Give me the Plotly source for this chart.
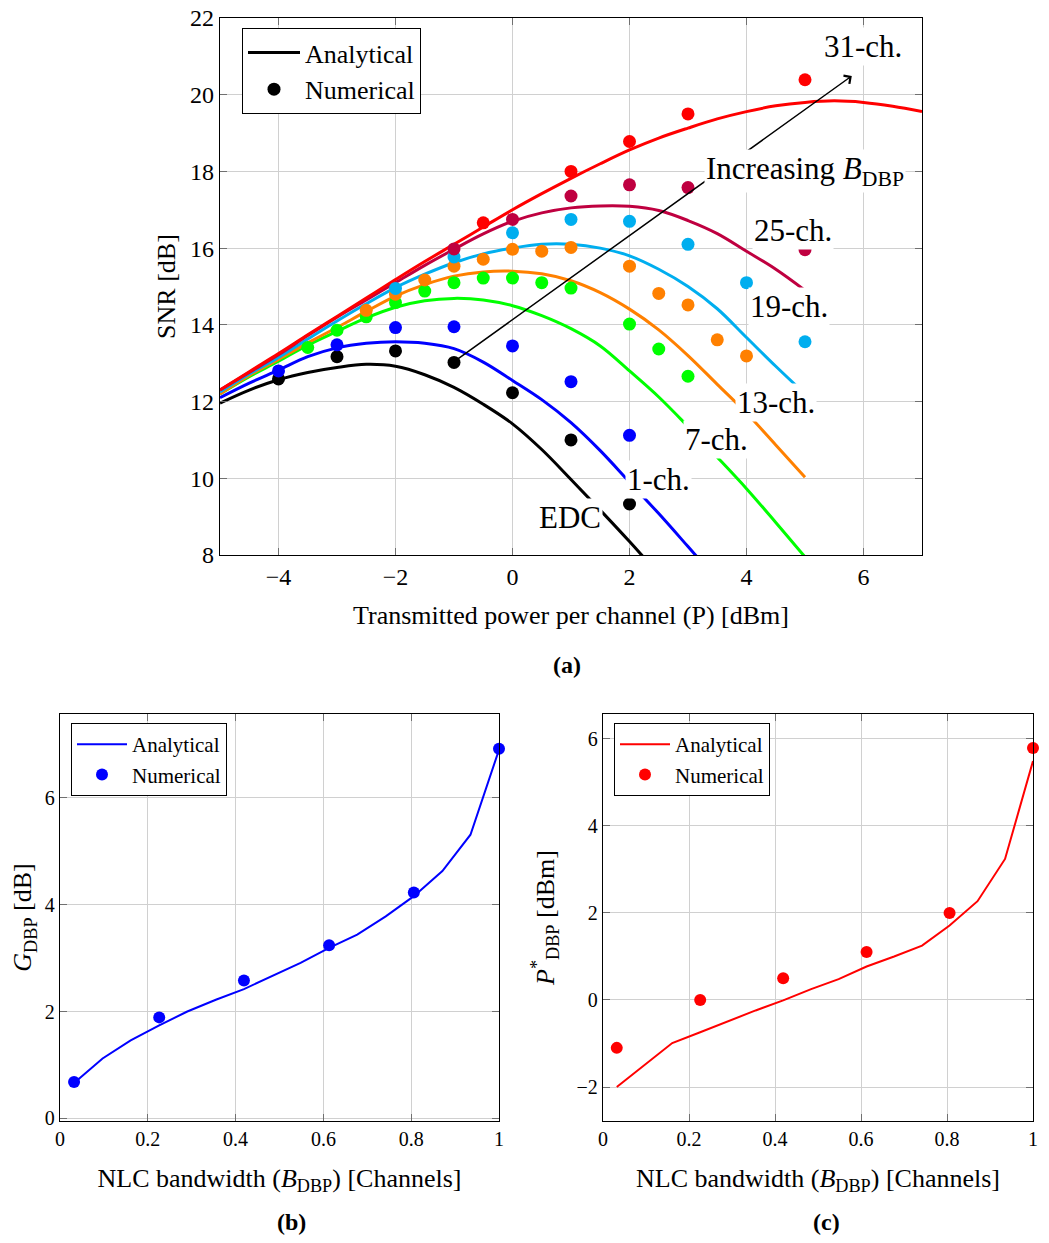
import plotly.graph_objects as go

FONT = "Liberation Serif"

# ---------------- (a) SNR vs launch power ----------------
labels = ["EDC", "1-ch.", "7-ch.", "13-ch.", "19-ch.", "25-ch.", "31-ch."]
colors = ["#000000", "#0000FF", "#00FF00", "#FF8000", "#00AEEF", "#BF0040", "#FF0000"]

# analytical curves
an_P_edc = [-5, -4.5, -4, -3.5, -3, -2.5, -2, -1.5, -1, -0.5, 0, 0.5, 1, 1.5, 2, 2.5]
an_S_edc = [11.96, 12.3, 12.57, 12.76, 12.89, 12.97, 12.92, 12.7, 12.37, 11.93, 11.42, 10.75, 9.97, 9.17, 8.35, 7.5]
an_P_1 = [-5, -4.5, -4, -3.5, -3, -2.5, -2, -1.5, -1, -0.5, 0, 0.5, 1, 1.5, 2, 2.5, 3, 3.5]
an_S_1 = [12.1, 12.48, 12.82, 13.17, 13.4, 13.52, 13.56, 13.52, 13.38, 13.03, 12.55, 12.05, 11.45, 10.72, 9.9, 9.08, 8.22, 7.35]
an_P_7 = [-5, -4.5, -4, -3.5, -3, -2.5, -2, -1.5, -1, -0.5, 0, 0.5, 1, 1.5, 2, 2.5, 3, 3.5, 4, 4.5, 5]
an_S_7 = [12.2, 12.65, 13.05, 13.47, 13.83, 14.18, 14.46, 14.63, 14.69, 14.65, 14.5, 14.24, 13.9, 13.45, 12.8, 12.12, 11.35, 10.55, 9.73, 8.85, 7.95]
an_P_13 = [-5, -4.5, -4, -3.5, -3, -2.5, -2, -1.5, -1, -0.5, 0, 0.5, 1, 1.5, 2, 2.5, 3, 3.5, 4, 4.5, 5]
an_S_13 = [12.2, 12.68, 13.1, 13.53, 13.93, 14.35, 14.75, 15.05, 15.27, 15.38, 15.4, 15.33, 15.15, 14.84, 14.41, 13.87, 13.2, 12.45, 11.7, 10.87, 10.03]
an_P_19 = [-5, -4.5, -4, -3.5, -3, -2.5, -2, -1.5, -1, -0.5, 0, 0.5, 1, 1.5, 2, 2.5, 3, 3.5, 4, 4.5, 5]
an_S_19 = [12.25, 12.72, 13.15, 13.63, 14.1, 14.55, 14.97, 15.32, 15.62, 15.85, 16.0, 16.1, 16.1, 16.0, 15.8, 15.45, 15.0, 14.42, 13.67, 12.92, 12.2]
an_P_25 = [-5, -4.5, -4, -3.5, -3, -2.5, -2, -1.5, -1, -0.5, 0, 0.5, 1, 1.5, 2, 2.5, 3, 3.5, 4, 4.5, 5]
an_S_25 = [12.3, 12.76, 13.22, 13.72, 14.2, 14.65, 15.1, 15.55, 15.97, 16.37, 16.7, 16.92, 17.05, 17.1, 17.09, 16.98, 16.72, 16.38, 15.92, 15.45, 14.9]
an_P_31 = [-5, -4.5, -4, -3.5, -3, -2.5, -2, -1.5, -1, -0.5, 0, 0.5, 1, 1.5, 2, 2.5, 3, 3.5, 4, 4.5, 5, 5.5, 6, 6.5, 7]
an_S_31 = [12.3, 12.78, 13.25, 13.74, 14.22, 14.7, 15.18, 15.65, 16.1, 16.55, 17.0, 17.42, 17.82, 18.2, 18.56, 18.87, 19.13, 19.37, 19.56, 19.71, 19.8, 19.84, 19.8, 19.7, 19.56]

# numerical points
nu_P_edc = [-4, -3, -2, -1, 0, 1, 2]
nu_S_edc = [12.59, 13.17, 13.32, 13.02, 12.23, 11.0, 9.33]
nu_P_1 = [-4, -3, -2, -1, 0, 1, 2]
nu_S_1 = [12.8, 13.48, 13.93, 13.95, 13.45, 12.52, 11.12]
nu_P_7 = [-3.5, -3, -2.5, -2, -1.5, -1, -0.5, 0, 0.5, 1, 2, 2.5, 3]
nu_S_7 = [13.41, 13.86, 14.21, 14.58, 14.88, 15.1, 15.22, 15.22, 15.1, 14.96, 14.02, 13.37, 12.66]
nu_P_13 = [-2.5, -2, -1.5, -1, -0.5, 0, 0.5, 1, 2, 2.5, 3, 3.5, 4]
nu_S_13 = [14.38, 14.8, 15.17, 15.53, 15.71, 15.97, 15.92, 16.02, 15.53, 14.82, 14.52, 13.61, 13.19]
nu_P_19 = [-2, -1, 0, 1, 2, 3, 4, 5]
nu_S_19 = [14.95, 15.77, 16.4, 16.75, 16.7, 16.1, 15.1, 13.56]
nu_P_25 = [-1, 0, 1, 2, 3, 5]
nu_S_25 = [15.98, 16.75, 17.36, 17.65, 17.58, 15.96]
nu_P_31 = [-0.5, 1, 2, 3, 5]
nu_S_31 = [16.66, 18.0, 18.78, 19.5, 20.39]

an_P = [an_P_edc, an_P_1, an_P_7, an_P_13, an_P_19, an_P_25, an_P_31]
an_S = [an_S_edc, an_S_1, an_S_7, an_S_13, an_S_19, an_S_25, an_S_31]
nu_P = [nu_P_edc, nu_P_1, nu_P_7, nu_P_13, nu_P_19, nu_P_25, nu_P_31]
nu_S = [nu_S_edc, nu_S_1, nu_S_7, nu_S_13, nu_S_19, nu_S_25, nu_S_31]

# curve label positions (P, SNR)
label_P = [0.99, 2.5, 3.49, 4.51, 4.72, 4.79, 5.99]
label_S = [8.99, 9.97, 11.0, 11.97, 14.49, 16.47, 21.27]

# ---------------- (b) and (c) ----------------
b_x_an = [0.032, 0.097, 0.161, 0.226, 0.29, 0.355, 0.419, 0.484, 0.548, 0.613, 0.677, 0.742, 0.806, 0.871, 0.935, 1.0]
b_G_an = [0.66, 1.12, 1.46, 1.74, 2.0, 2.22, 2.42, 2.67, 2.91, 3.19, 3.44, 3.78, 4.16, 4.63, 5.31, 6.9]
b_x_nu = [0.032, 0.226, 0.419, 0.613, 0.806, 1.0]
b_G_nu = [0.68, 1.89, 2.58, 3.24, 4.23, 6.92]

c_P_an = [-2.0, -1.5, -0.99, -0.74, -0.49, -0.24, -0.01, 0.25, 0.48, 0.77, 1.0, 1.25, 1.71, 2.27, 3.24, 5.49]
c_P_nu = [-1.1, 0.0, 0.5, 1.1, 2.0, 5.79]

fig = go.Figure()

for P, S, c in zip(an_P, an_S, colors):
    fig.add_trace(go.Scatter(x=P, y=S, mode="lines", line=dict(color=c, width=3, shape="spline", smoothing=1),
                             showlegend=False, xaxis="x", yaxis="y"))
for P, S, c in zip(nu_P, nu_S, colors):
    fig.add_trace(go.Scatter(x=P, y=S, mode="markers", marker=dict(color=c, size=13),
                             showlegend=False, xaxis="x", yaxis="y"))
fig.add_trace(go.Scatter(x=[None], y=[None], mode="lines", line=dict(color="black", width=3),
                         name="Analytical", legend="legend", xaxis="x", yaxis="y"))
fig.add_trace(go.Scatter(x=[None], y=[None], mode="markers", marker=dict(color="black", size=13),
                         name="Numerical", legend="legend", xaxis="x", yaxis="y"))

# (b)
fig.add_trace(go.Scatter(x=b_x_an, y=b_G_an, mode="lines", line=dict(color="#0000FF", width=2),
                         name="Analytical", legend="legend2", xaxis="x2", yaxis="y2"))
fig.add_trace(go.Scatter(x=b_x_nu, y=b_G_nu, mode="markers", marker=dict(color="#0000FF", size=12),
                         name="Numerical", legend="legend2", xaxis="x2", yaxis="y2", cliponaxis=False))
# (c)
fig.add_trace(go.Scatter(x=b_x_an, y=c_P_an, mode="lines", line=dict(color="#FF0000", width=2),
                         name="Analytical", legend="legend3", xaxis="x3", yaxis="y3"))
fig.add_trace(go.Scatter(x=b_x_nu, y=c_P_nu, mode="markers", marker=dict(color="#FF0000", size=12),
                         name="Numerical", legend="legend3", xaxis="x3", yaxis="y3", cliponaxis=False))


def axis(domain, rng, dtick, fs, title, tfs, standoff, anchor):
    return dict(domain=domain, range=rng, dtick=dtick, tick0=0,
                showline=True, linecolor="black", linewidth=1.3, mirror="ticks",
                ticks="inside", ticklen=7, tickwidth=1.2, tickcolor="#707070",
                showgrid=True, gridcolor="#d0d0d0", gridwidth=1, zeroline=False,
                ticklabeloverflow="allow",
                tickfont=dict(family=FONT, size=fs, color="black"),
                title=dict(text=title, font=dict(family=FONT, size=tfs, color="black"), standoff=standoff),
                anchor=anchor, automargin=False)


# the page body adds an 8 px margin: lay out in page pixels minus 8, and keep the page unscrolled
W, H = 1033, 1227
OFF = 8


def px_x(a, b):
    return [(a - OFF) / W, (b - OFF) / W]


def px_y(top, bottom):
    return [1 - (bottom - OFF) / H, 1 - (top - OFF) / H]


fig.update_layout(
    width=W, height=H, margin=dict(l=0, r=0, t=0, b=0),
    paper_bgcolor="white", plot_bgcolor="white",
    xaxis=axis(px_x(220, 922), [-5, 7], 2, 24, "Transmitted power per channel (P) [dBm]", 26, 16, "y"),
    yaxis=axis(px_y(18, 555), [8, 22], 2, 24, "SNR [dB]", 26, 6, "x"),
    xaxis2=axis(px_x(60, 499), [0, 1], 0.2, 20, "NLC bandwidth (<i>B</i><sub>DBP</sub>) [Channels]", 26, 19, "y2"),
    yaxis2=axis(px_y(714, 1121), [-0.05, 7.57], 2, 20, "<i>G</i><sub>DBP</sub> [dB]", 26, 5, "x2"),
    xaxis3=axis(px_x(603, 1033), [0, 1], 0.2, 20, "NLC bandwidth (<i>B</i><sub>DBP</sub>) [Channels]", 26, 19, "y3"),
    yaxis3=axis(px_y(714, 1121), [-2.78, 6.57], 2, 20, "<i>P</i><sup>*</sup><sub>DBP</sub> [dBm]", 26, 14, "x3"),
    legend=dict(x=(242 - OFF) / W, y=1 - (28 - OFF) / H, xanchor="left", yanchor="top", bgcolor="white",
                bordercolor="black", borderwidth=1, itemwidth=52, tracegroupgap=0,
                font=dict(family=FONT, size=26, color="black")),
    legend2=dict(x=(71 - OFF) / W, y=1 - (723 - OFF) / H, xanchor="left", yanchor="top", bgcolor="white",
                 bordercolor="black", borderwidth=1, itemwidth=50,
                 font=dict(family=FONT, size=21, color="black")),
    legend3=dict(x=(614 - OFF) / W, y=1 - (723 - OFF) / H, xanchor="left", yanchor="top", bgcolor="white",
                 bordercolor="black", borderwidth=1, itemwidth=50,
                 font=dict(family=FONT, size=21, color="black")),
)

# arrow "Increasing B_DBP"
arrow_tail = (-1, 13.04)
arrow_head = (5.8, 20.49)
fig.add_annotation(x=arrow_head[0], y=arrow_head[1], ax=arrow_tail[0], ay=arrow_tail[1],
                   xref="x", yref="y", axref="x", ayref="y", text="", showarrow=True,
                   arrowhead=4, arrowsize=1.3, arrowwidth=1.5, arrowcolor="black")
fig.add_annotation(x=5.0, y=18.0, xref="x", yref="y", text="Increasing <i>B</i><sub>DBP</sub>",
                   showarrow=False, bgcolor="white", xanchor="center", yanchor="middle",
                   font=dict(family=FONT, size=31, color="black"))
for lab, px, sy in zip(labels, label_P, label_S):
    fig.add_annotation(x=px, y=sy, xref="x", yref="y", text=lab, showarrow=False,
                       bgcolor="white", xanchor="center", yanchor="middle",
                       font=dict(family=FONT, size=31, color="black"))

for txt, px, py in [("(a)", 567, 665), ("(b)", 291, 1222), ("(c)", 826, 1222)]:
    fig.add_annotation(x=(px - OFF) / W, y=1 - (py - OFF) / H, xref="paper", yref="paper",
                       text="<b>" + txt + "</b>", showarrow=False, xanchor="center", yanchor="middle",
                       font=dict(family=FONT, size=24, color="black"))

fig.write_html("out.html")
